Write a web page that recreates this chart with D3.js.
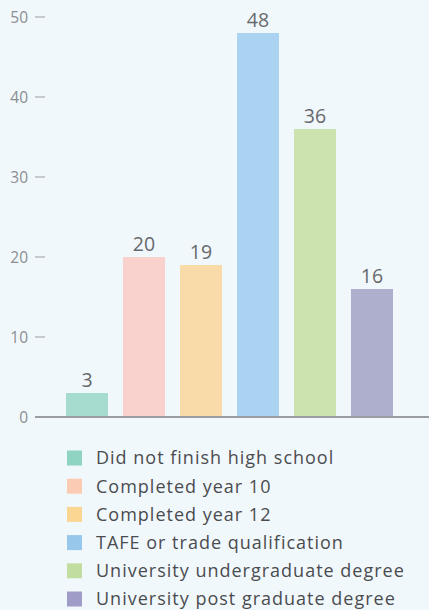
<!DOCTYPE html>
<html><head><meta charset="utf-8">
<script src="https://cdn.jsdelivr.net/npm/d3@7"></script>
<style>
html,body{margin:0;padding:0;background:#f1f8fc;}
svg{display:block;font-family:"Open Sans",sans-serif;}
</style></head><body>
<svg id="c" width="429" height="610"></svg>
<script>
const categories = ["Did not finish high school","Completed year 10","Completed year 12","TAFE or trade qualification","University undergraduate degree","University post graduate degree"];
const values = [3,20,19,48,36,16];
const barColors = ["#a6dbd0","#f9d2ce","#f8dba8","#abd2f0","#cce2af","#aeafcd"];
const swatchColors = ["#8fd4c3","#fccbb3","#fbd592","#97c7ea","#c1dea0","#9f9dc7"];
const yTicks = [0,10,20,30,40,50];

const svg = d3.select("#c");
const y = d3.scaleLinear().domain([0,50]).range([417,17]);
const x = d3.scaleBand().domain(categories).range([35,424]).paddingInner(0.263).paddingOuter(0.544);

svg.append("line").attr("x1",35).attr("x2",429).attr("y1",y(0)).attr("y2",y(0))
  .attr("stroke","#9a9ea3").attr("stroke-width",2);

const tg = svg.append("g");
yTicks.forEach(t=>{
  tg.append("line").attr("x1",35).attr("x2",45).attr("y1",y(t)).attr("y2",y(t))
    .attr("stroke","#9a9ea3").attr("stroke-width",1);
  tg.append("text").attr("x",28).attr("y",y(t)).attr("dy","0.36em").attr("text-anchor","end")
    .attr("fill","#8c8e91").attr("font-size",15.5).text(t);
});

svg.selectAll("rect.bar").data(values).enter().append("rect")
  .attr("x",(d,i)=>x(categories[i])).attr("width",x.bandwidth())
  .attr("y",d=>y(d)).attr("height",d=>y(0)-y(d)-1)
  .attr("fill",(d,i)=>barColors[i]);

svg.selectAll("text.val").data(values).enter().append("text")
  .attr("x",(d,i)=>x(categories[i])+x.bandwidth()/2).attr("y",d=>y(d)-6)
  .attr("text-anchor","middle").attr("fill","#67696c").attr("font-size",19.5).text(d=>d);

const lg = svg.append("g");
categories.forEach((c,i)=>{
  const cy = 458 + i*28.2;
  lg.append("rect").attr("x",67).attr("y",cy-7.5).attr("width",15).attr("height",15).attr("fill",swatchColors[i]);
  lg.append("text").attr("x",96).attr("y",cy).attr("dy","0.36em").attr("fill","#4a4c4f")
    .attr("font-size",18).attr("letter-spacing",1).text(c);
});
</script></body></html>
